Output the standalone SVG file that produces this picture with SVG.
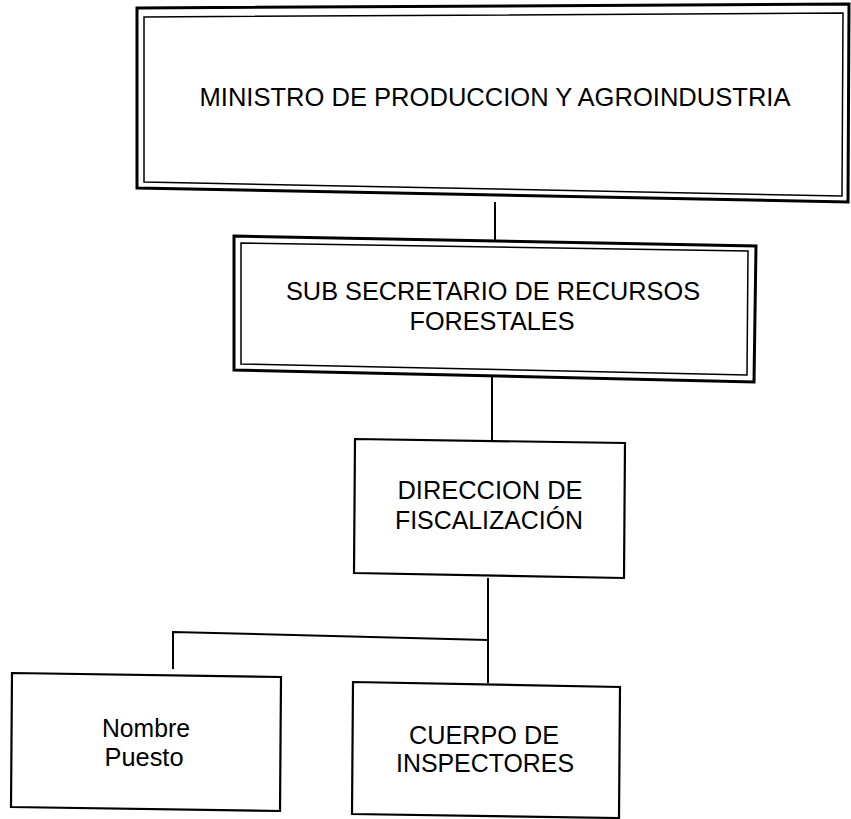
<svg xmlns="http://www.w3.org/2000/svg" width="851" height="819" viewBox="0 0 851 819">
<style>
.bg{fill:#ffffff}
.outer{fill:none;stroke:#000;stroke-width:3;stroke-linejoin:miter}
.inner{fill:none;stroke:#000;stroke-width:1.5}
.box{fill:none;stroke:#000;stroke-width:2.2}
.lbl{font-family:"Liberation Sans",Arial,sans-serif;font-size:26px;fill:#000;text-anchor:middle}
.conn{fill:none;stroke:#000;stroke-width:2}
</style>
<rect class="bg" x="0" y="0" width="851" height="819"/>
<g id="connectors">
<path class="conn" d="M495,202 L495,240"/>
<path class="conn" d="M492,376 L492,442"/>
<path class="conn" d="M488,578 L488,683"/>
<path class="conn" d="M488,640 L173,632 L173,669"/>
</g>
<g id="ministro">
<path class="outer" d="M137,8 L849,4 L848,202 L137,188 Z"/>
<path class="inner" d="M144,17 L843,13 L842,196 L144,182 Z"/>
<text class="lbl" x="495" y="106" textLength="591" lengthAdjust="spacingAndGlyphs">MINISTRO DE PRODUCCION Y AGROINDUSTRIA</text>
</g>
<g id="subsecretario">
<path class="outer" d="M234,236 L756,246 L754,382 L234,370 Z"/>
<path class="inner" d="M241,243 L748,251 L747,375 L241,364 Z"/>
<text class="lbl" x="493" y="300" textLength="414" lengthAdjust="spacingAndGlyphs">SUB SECRETARIO DE RECURSOS</text>
<text class="lbl" x="492" y="330" textLength="165" lengthAdjust="spacingAndGlyphs">FORESTALES</text>
</g>
<g id="direccion">
<path class="box" d="M355,439 L625,443 L624,578 L354,573 Z"/>
<text class="lbl" x="490" y="499" textLength="185" lengthAdjust="spacingAndGlyphs">DIRECCION DE</text>
<text class="lbl" x="489" y="529" textLength="188" lengthAdjust="spacingAndGlyphs">FISCALIZACIÓN</text>
</g>
<g id="nombre">
<path class="box" d="M12,673 L281,677 L280,811 L11,807 Z"/>
<text class="lbl" x="146" y="737" textLength="88" lengthAdjust="spacingAndGlyphs">Nombre</text>
<text class="lbl" x="144" y="766" textLength="79" lengthAdjust="spacingAndGlyphs">Puesto</text>
</g>
<g id="cuerpo">
<path class="box" d="M353,682 L620,687 L619,818 L352,814 Z"/>
<text class="lbl" x="484" y="744" textLength="150" lengthAdjust="spacingAndGlyphs">CUERPO DE</text>
<text class="lbl" x="485" y="772" textLength="178" lengthAdjust="spacingAndGlyphs">INSPECTORES</text>
</g>
</svg>
